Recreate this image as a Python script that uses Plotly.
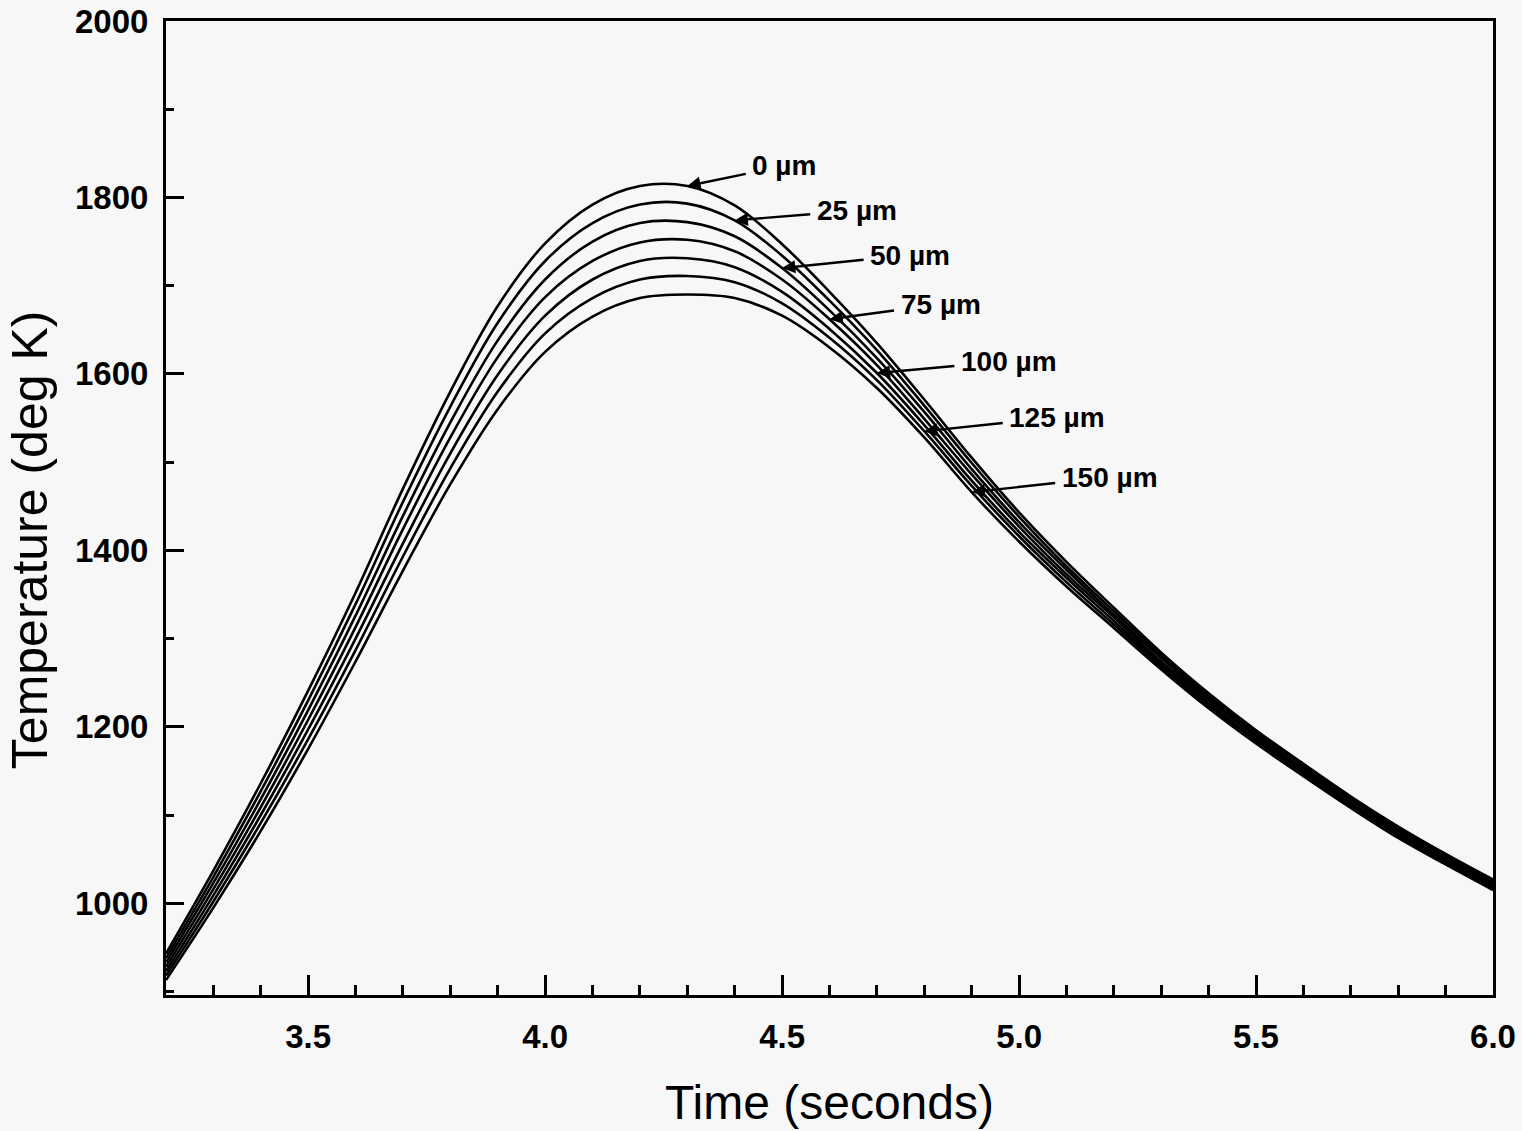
import plotly.graph_objects as go

# time grid (s) and temperature (K) for each depth below surface
time_s = [3.2, 3.3, 3.4, 3.5, 3.6, 3.7, 3.8, 3.9, 4.0, 4.1, 4.2, 4.3, 4.4, 4.5, 4.6,
          4.7, 4.8, 4.9, 5.0, 5.1, 5.2, 5.3, 5.4, 5.5, 5.6, 5.7, 5.8, 5.9, 6.0]

temp_0um = [943, 1037, 1136, 1241, 1352, 1470, 1580, 1677, 1748, 1792, 1813, 1813, 1791, 1747, 1693,
            1635, 1571, 1505, 1443, 1387, 1335, 1284, 1238, 1196, 1158, 1121, 1087, 1056, 1027]
temp_25um = [938, 1030, 1127, 1230, 1339, 1455, 1563, 1658, 1728, 1771, 1792, 1793, 1774, 1734, 1683,
             1627, 1564, 1499, 1438, 1382, 1331, 1281, 1235, 1194, 1156, 1119, 1085, 1054, 1025]
temp_50um = [933, 1023, 1118, 1219, 1326, 1439, 1545, 1638, 1707, 1750, 1771, 1772, 1756, 1720, 1672,
             1618, 1557, 1492, 1432, 1378, 1327, 1278, 1232, 1191, 1153, 1117, 1083, 1052, 1023]
temp_75um = [928, 1016, 1109, 1208, 1313, 1424, 1528, 1619, 1687, 1728, 1749, 1752, 1739, 1707, 1662,
             1610, 1549, 1486, 1427, 1373, 1324, 1274, 1230, 1189, 1151, 1114, 1081, 1050, 1021]
temp_100um = [923, 1009, 1100, 1197, 1300, 1408, 1510, 1599, 1666, 1707, 1728, 1731, 1721, 1693, 1651,
              1601, 1542, 1479, 1421, 1369, 1320, 1271, 1227, 1186, 1149, 1112, 1079, 1048, 1019]
temp_125um = [918, 1002, 1091, 1186, 1287, 1393, 1493, 1580, 1646, 1686, 1707, 1711, 1704, 1680, 1641,
              1593, 1535, 1473, 1416, 1364, 1316, 1268, 1224, 1184, 1147, 1110, 1077, 1046, 1017]
temp_150um = [913, 995, 1082, 1175, 1274, 1377, 1475, 1560, 1625, 1665, 1686, 1690, 1686, 1666, 1630,
              1584, 1528, 1466, 1410, 1359, 1312, 1265, 1221, 1181, 1144, 1108, 1074, 1044, 1015]

depth_labels = ["0 µm", "25 µm", "50 µm", "75 µm", "100 µm", "125 µm", "150 µm"]
series = [temp_0um, temp_25um, temp_50um, temp_75um, temp_100um, temp_125um, temp_150um]
# time at which each label's arrow touches its curve
label_times = [4.3, 4.4, 4.5, 4.6, 4.7, 4.8, 4.9]

FONT = "Liberation Sans, Arial, Helvetica, sans-serif"
BG = "#f7f7f7"

fig = go.Figure()
for name, temps in zip(depth_labels, series):
    fig.add_trace(go.Scatter(
        x=time_s, y=temps, mode="lines", name=name,
        line=dict(color="black", width=2.6, shape="spline", smoothing=1.0),
        hovertemplate="%{x:.2f} s<br>%{y:.0f} K<extra>" + name + "</extra>",
    ))

# label offsets (pixels from arrow tip to text centre)
offsets = [(97, -20), (122, -10), (128, -13), (111, -15), (132, -12), (133, -14), (138, -15)]
for name, temps, t, (dx, dy) in zip(depth_labels, series, label_times, offsets):
    i = time_s.index(t)
    fig.add_annotation(
        x=t, y=temps[i], text=name, showarrow=True,
        ax=dx, ay=dy, arrowhead=2, arrowsize=1.1, arrowwidth=2.4, arrowcolor="black",
        borderpad=6, font=dict(family=FONT, size=28, color="black", weight="bold"),
    )

# y title as an annotation so it can sit a bit below the axis centre, like the original
fig.add_annotation(
    text="Temperature (deg K)", xref="paper", yref="paper", x=0, y=0.467,
    xanchor="center", yanchor="middle", xshift=-136, textangle=-90,
    showarrow=False, font=dict(family=FONT, size=50, color="black"),
)

fig.update_layout(
    width=1522, height=1131,
    margin=dict(l=166, r=29, t=21, b=136),
    paper_bgcolor=BG, plot_bgcolor=BG,
    showlegend=False,
    font=dict(family=FONT, color="black"),
)
fig.update_xaxes(
    range=[3.2, 6.0], tick0=3.0, dtick=0.5, tickformat=".1f",
    ticks="inside", ticklen=20, tickwidth=3, tickcolor="black",
    minor=dict(dtick=0.1, ticks="inside", ticklen=10, tickwidth=3, tickcolor="black"),
    showline=True, linecolor="black", linewidth=3, mirror=True,
    showgrid=False, zeroline=False, automargin=False, ticklabeloverflow="allow",
    tickfont=dict(family=FONT, size=33, weight="bold"),
    ticklabelstandoff=10,
    title=dict(text="Time (seconds)", font=dict(family=FONT, size=48), standoff=32),
)
fig.update_yaxes(
    range=[896, 2000], tick0=1000, dtick=200,
    ticks="inside", ticklen=18, tickwidth=3, tickcolor="black",
    minor=dict(dtick=100, ticks="inside", ticklen=8, tickwidth=3, tickcolor="black"),
    showline=True, linecolor="black", linewidth=3, mirror=True,
    showgrid=False, zeroline=False, automargin=False, ticklabeloverflow="allow",
    tickfont=dict(family=FONT, size=33, weight="bold"),
    ticklabelstandoff=8,
)

fig.write_html("out.html", config={"displayModeBar": False},
               post_script="document.body.style.margin='0';")
